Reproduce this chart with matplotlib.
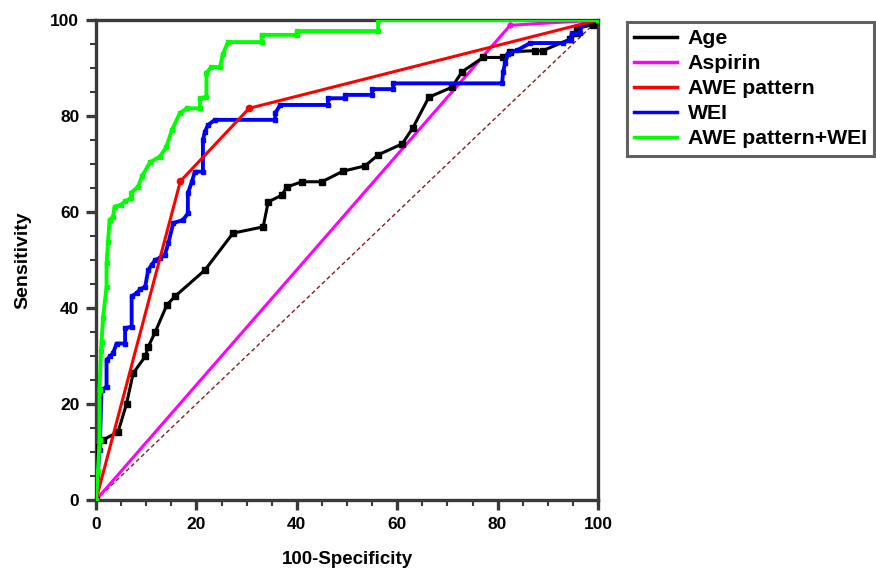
import matplotlib.pyplot as plt
from matplotlib.ticker import MultipleLocator
from matplotlib.lines import Line2D

plt.rcParams['font.family'] = ['Liberation Sans', 'DejaVu Sans']
plt.rcParams['font.weight'] = 'bold'

# ROC curve points (x = 100-Specificity, y = Sensitivity)
age_x = [0, 0, 0.3, 1.4, 4.4, 6.1, 7.4, 9.8, 10.4, 11.8, 14.1, 15.7, 21.7, 27.3, 33.3, 34.3,
         37.0, 38.0, 41.0, 45.0, 49.2, 53.6, 56.2, 61.0, 63.1, 66.3, 70.9, 72.9, 77.1, 81.1,
         82.5, 87.5, 89.0, 94.4, 95.8, 95.8, 99.0, 99.5, 100]
age_y = [0, 4.9, 11.1, 12.5, 14.2, 20.1, 26.4, 29.9, 31.9, 35.0, 40.6, 42.4, 47.9, 55.6, 56.9, 62.1,
         63.5, 65.2, 66.3, 66.3, 68.5, 69.6, 71.9, 74.2, 77.5, 83.9, 86.0, 89.2, 92.2, 92.2,
         93.4, 93.6, 93.6, 96.0, 97.3, 98.3, 99.0, 100, 100]

aspirin_x = [0, 82.5, 100]
aspirin_y = [0, 98.9, 100]

awe_x = [0, 16.8, 30.5, 100]
awe_y = [0, 66.4, 81.6, 100]

wei_x = [0, 0.7, 0.8, 1.1, 2.1, 2.1, 2.8, 3.4, 4.1, 5.8, 5.8, 7.1, 7.1, 8.1, 8.8, 9.8, 10.4, 11.1,
         11.8, 12.7, 13.7, 14.4, 15.4, 17.3, 18.3, 18.3, 19.1, 19.7, 21.3, 21.3, 21.7, 22.3, 23.7,
         35.7, 35.7, 36.7, 46.2, 46.2, 49.6, 49.6, 55.0, 55.0, 59.2, 59.2, 80.9, 81.1, 81.5, 82.1,
         83.9, 86.5, 93.0, 94.4, 94.8, 96.4, 96.8, 99.8, 100]
wei_y = [0, 10.4, 12.5, 22.9, 23.6, 29.2, 29.9, 30.6, 32.6, 32.6, 35.8, 36.1, 42.4, 43.1, 43.9, 44.4, 47.9, 49.0,
         50.0, 50.4, 51.0, 53.5, 57.7, 58.3, 59.7, 63.9, 66.3, 68.4, 68.4, 75.0, 76.7, 78.1, 79.2,
         79.2, 80.6, 82.3, 82.3, 83.7, 83.7, 84.4, 84.4, 85.6, 85.6, 86.8, 86.8, 89.2, 91.0, 93.0,
         93.7, 95.2, 95.2, 95.8, 97.2, 97.2, 99.0, 100, 100]

combo_x = [0, 0.4, 0.7, 0.7, 1.0, 1.1, 1.4, 2.1, 2.1, 2.4, 2.7, 3.4, 3.7, 5.0, 5.7, 7.0, 7.0, 8.4,
           9.2, 10.8, 12.7, 14.0, 15.1, 16.7, 18.1, 20.7, 20.7, 22.0, 22.0, 23.0, 24.7, 25.3, 26.3,
           33.0, 33.0, 40.0, 40.0, 56.2, 56.2, 100]
combo_y = [0, 6.0, 12.5, 23.0, 31.0, 33.0, 38.0, 44.4, 49.3, 53.8, 58.3, 59.0, 61.1, 61.5, 62.2, 62.9, 64.0, 65.3,
           67.5, 70.4, 71.5, 73.5, 77.0, 80.6, 81.6, 81.6, 83.7, 84.0, 89.0, 90.2, 90.2, 93.0, 95.4,
           95.4, 96.9, 96.9, 97.7, 97.7, 100, 100]

ref_x = [0, 100]
ref_y = [0, 100]

legend_order = ['Age', 'Aspirin', 'AWE pattern', 'WEI', 'AWE pattern+WEI']

fig = plt.figure(figsize=(8.76, 5.70), dpi=100)
ax = fig.add_axes([96 / 876, 70 / 570, 502 / 876, 480 / 570])

ax.plot(ref_x, ref_y, color='#8b1a1a', lw=1.0, ls=(0, (3, 2)), zorder=1)
ax.plot(aspirin_x, aspirin_y, color='#ff00ff', lw=2.2, marker='o', ms=3.5, label='Aspirin', zorder=2)
ax.plot(age_x, age_y, color='black', lw=2.2, marker='s', ms=4.5, label='Age', zorder=3)
ax.plot(wei_x, wei_y, color='#0000ff', lw=2.8, marker='s', ms=3.2, label='WEI', zorder=4)
ax.plot(awe_x, awe_y, color='#ff0000', lw=2.2, marker='o', ms=4.5, label='AWE pattern', zorder=5)
ax.plot(combo_x, combo_y, color='#00ff00', lw=2.8, marker='s', ms=3.2, label='AWE pattern+WEI', zorder=6)

ax.set_xlim(0, 100)
ax.set_ylim(0, 100)
ax.xaxis.set_major_locator(MultipleLocator(20))
ax.xaxis.set_minor_locator(MultipleLocator(5))
ax.yaxis.set_major_locator(MultipleLocator(20))
ax.yaxis.set_minor_locator(MultipleLocator(5))

spine_col = '#3a3a3a'
for s in ax.spines.values():
    s.set_linewidth(2.4)
    s.set_color(spine_col)
ax.tick_params(which='major', length=7, width=2.4, color=spine_col, labelsize=12.5, pad=5)
ax.tick_params(which='minor', length=4, width=1.5, color=spine_col)
for lab in ax.get_xticklabels() + ax.get_yticklabels():
    lab.set_fontweight('bold')

ax.set_xlabel('100-Specificity', fontsize=13.5, fontweight='bold', labelpad=14)
ax.set_ylabel('Sensitivity', fontsize=14, fontweight='bold', labelpad=14)

handles, labels = ax.get_legend_handles_labels()
hmap = dict(zip(labels, handles))
leg_handles = [Line2D([], [], color=hmap[k].get_color(), lw=2.5) for k in legend_order]
leg = fig.legend(leg_handles, legend_order, loc='upper left', bbox_to_anchor=(627 / 876, 1 - 22 / 570),
                 fontsize=15.3, frameon=True, fancybox=False, handlelength=2.0,
                 handletextpad=0.5, labelspacing=0.28, borderpad=0.35, borderaxespad=0)
leg.get_frame().set_edgecolor(spine_col)
leg.get_frame().set_linewidth(2.2)
for t in leg.get_texts():
    t.set_fontweight('bold')

fig.savefig('out.png', dpi=100)
